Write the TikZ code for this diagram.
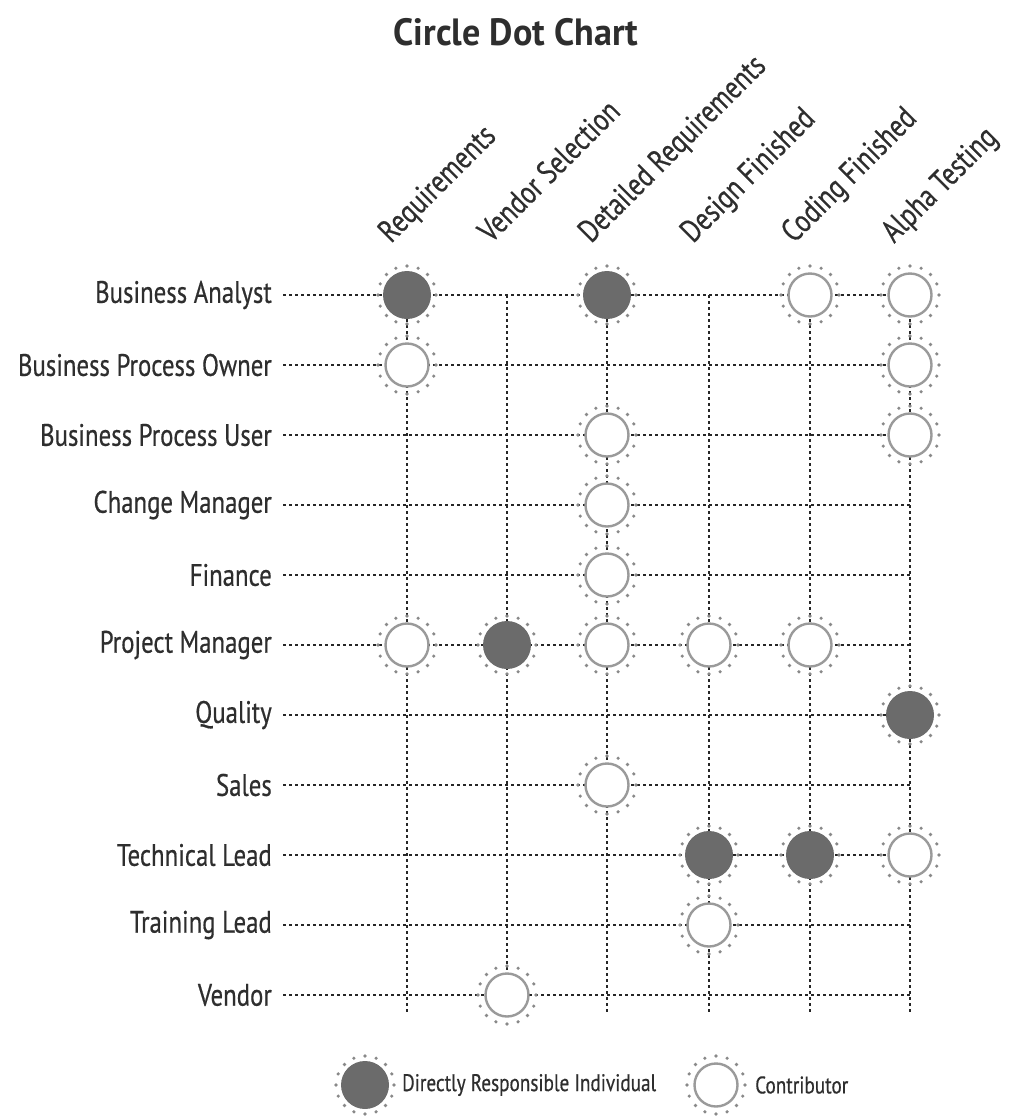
\documentclass[tikz,border=0pt]{standalone}
\usepackage{fontspec}
\setmainfont{PT Sans}[FakeStretch=0.8, FakeBold=0.5]
\newfontfamily\headfont{PT Sans}[FakeStretch=0.95]
\definecolor{dotgray}{HTML}{6B6B6B}
\definecolor{ringgray}{HTML}{9A9A9A}
\definecolor{inkgray}{HTML}{2E2E2E}
\begin{document}
\begin{tikzpicture}[x=1pt,y=-1pt,
  rowlabel/.style={anchor=east, inner sep=0pt, text=inkgray, font=\fontsize{31}{31}\selectfont},
  collabel/.style={anchor=base west, rotate=45, inner sep=0pt, text=inkgray, font=\fontsize{32}{32}\selectfont},
  gridline/.style={line width=1.8pt, dash pattern=on 3pt off 3pt, black!85},
  dri/.style={circle, fill=dotgray, minimum size=48pt, inner sep=0pt},
  contrib/.style={circle, draw=ringgray, line width=2.4pt, fill=white, minimum size=43pt, inner sep=0pt},
  legendtext/.style={anchor=west, inner sep=0pt, text=inkgray, font=\fontsize{24}{24}\selectfont},
]
\useasboundingbox (0,0) rectangle (1011,1120);

% title
\node[font=\headfont\bfseries\fontsize{38}{38}\selectfont, text=inkgray] (title) at (516,32) {Circle Dot Chart};

% column positions and headings
\foreach \j/\x/\txt in {1/407/Requirements, 2/507/Vendor Selection, 3/607/Detailed Requirements,
                        4/709/Design Finished, 5/810/Coding Finished, 6/910/Alpha Testing}{
  \coordinate (top\j) at (\x,295);
  \coordinate (bot\j) at (\x,1012);
  \node[collabel] (head\j) at (\x-16,244) {\txt};
}

% row labels and row end points
\foreach \i/\txt in {1/Business Analyst, 2/Business Process Owner, 3/Business Process User,
                     4/Change Manager, 5/Finance, 6/Project Manager, 7/Quality, 8/Sales,
                     9/Technical Lead, 10/Training Lead, 11/Vendor}{
  \node[rowlabel] (row\i) at (272,{295+70*(\i-1)}) {\txt};
  \coordinate (end\i) at (910,{295+70*(\i-1)});
}

% dotted grid
\foreach \i in {1,...,11}
  \draw[gridline] ([xshift=11pt]row\i.east) -- (end\i);
\foreach \j in {1,...,6}
  \draw[gridline] (top\j) -- (bot\j);

% markers: column / row / kind
\foreach \j/\i/\kind in {1/1/dri, 3/1/dri, 5/1/contrib, 6/1/contrib,
                         1/2/contrib, 6/2/contrib,
                         3/3/contrib, 6/3/contrib,
                         3/4/contrib,
                         3/5/contrib,
                         1/6/contrib, 2/6/dri, 3/6/contrib, 4/6/contrib, 5/6/contrib,
                         6/7/dri,
                         3/8/contrib,
                         4/9/dri, 5/9/dri, 6/9/contrib,
                         4/10/contrib,
                         2/11/contrib}{
  \node[\kind] (m\i-\j) at (top\j |- end\i) {};
  \foreach \a in {0,22.5,...,337.5}
    \fill[dotgray!80] (m\i-\j.center) ++(\a:29pt) circle (1.8pt);
}

% legend
\node[dri] (keydri) at (365,1085) {};
\node[contrib] (keycon) at (716,1085) {};
\foreach \n in {keydri,keycon}
  \foreach \a in {0,22.5,...,337.5}
    \fill[dotgray!80] (\n.center) ++(\a:29pt) circle (1.8pt);
\node[legendtext] (keydritext) at (402,1085) {Directly Responsible Individual};
\node[legendtext] (keycontext) at (755,1085) {Contributor};
\end{tikzpicture}
\end{document}
